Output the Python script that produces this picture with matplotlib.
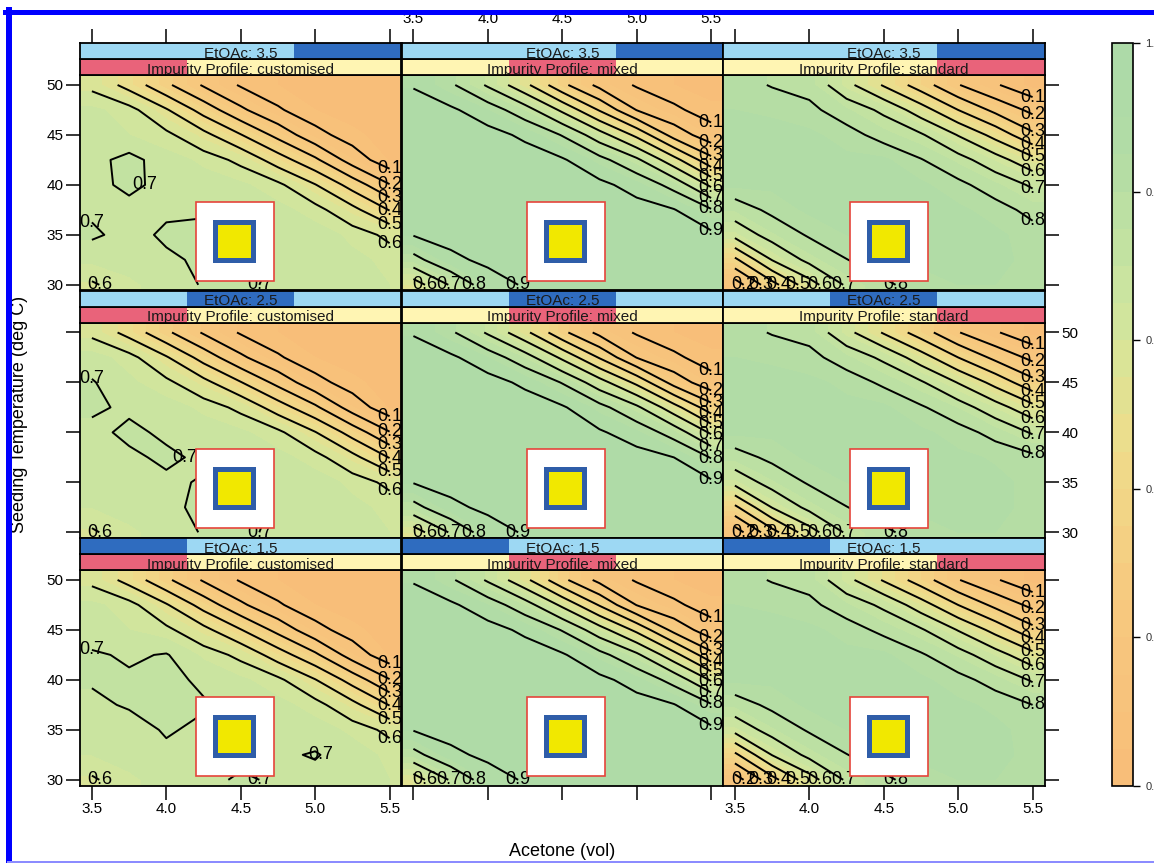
"""Crystallisation yield contours: acetone vs seeding temperature, by EtOAc and impurity profile."""

import numpy as np
import matplotlib

matplotlib.use("Agg")
import matplotlib.pyplot as plt
from matplotlib.colors import LinearSegmentedColormap
from matplotlib.lines import Line2D
from matplotlib.patches import Rectangle
from matplotlib.path import Path

plt.rcParams["font.family"] = ["Liberation Sans", "DejaVu Sans"]

W, H = 1154, 863

# grid of the response surface (rows follow SEED_TEMP, columns follow ACETONE)
ACETONE = [3.5, 3.75, 4.0, 4.25, 4.5, 4.75, 5.0, 5.25, 5.5]
SEED_TEMP = [30.0, 32.5, 35.0, 37.5, 40.0, 42.5, 45.0, 47.5, 50.0]
ETOAC = [1.5, 2.5, 3.5]
PROFILES = ["customised", "mixed", "standard"]
CONTOUR_LEVELS = [0.1, 0.2, 0.3, 0.4, 0.5, 0.6, 0.7, 0.8, 0.9]
X_TICKS = [3.5, 4.0, 4.5, 5.0, 5.5]
Y_TICKS = [30, 35, 40, 45, 50]
COLORBAR_TICKS = [0.0, 0.2, 0.4, 0.6, 0.8, 1.0]

CUSTOMISED_35 = [
    [0.59, 0.64, 0.67, 0.705, 0.71, 0.69, 0.67, 0.66, 0.65],
    [0.66, 0.67, 0.69, 0.71, 0.72, 0.695, 0.68, 0.66, 0.64],
    [0.71, 0.68, 0.71, 0.72, 0.705, 0.69, 0.67, 0.64, 0.58],
    [0.69, 0.68, 0.69, 0.69, 0.68, 0.665, 0.63, 0.53, 0.395],
    [0.68, 0.715, 0.68, 0.67, 0.66, 0.62, 0.505, 0.36, 0.205],
    [0.68, 0.72, 0.67, 0.64, 0.58, 0.45, 0.32, 0.153, 0.043],
    [0.66, 0.65, 0.62, 0.53, 0.405, 0.27, 0.13, 0.06, 0.03],
    [0.66, 0.63, 0.51, 0.36, 0.22, 0.11, 0.05, 0.03, 0.02],
    [0.58, 0.464, 0.32, 0.189, 0.09, 0.05, 0.03, 0.02, 0.02],
]
MIXED_35 = [
    [0.55, 0.71, 0.856, 0.91, 0.93, 0.94, 0.94, 0.94, 0.93],
    [0.767, 0.88, 0.92, 0.94, 0.95, 0.95, 0.95, 0.94, 0.93],
    [0.905, 0.93, 0.95, 0.95, 0.95, 0.95, 0.95, 0.94, 0.92],
    [0.95, 0.95, 0.95, 0.95, 0.95, 0.95, 0.93, 0.905, 0.81],
    [0.95, 0.95, 0.95, 0.95, 0.95, 0.92, 0.869, 0.767, 0.58],
    [0.95, 0.95, 0.95, 0.94, 0.91, 0.831, 0.72, 0.537, 0.33],
    [0.95, 0.94, 0.93, 0.884, 0.795, 0.643, 0.476, 0.26, 0.14],
    [0.93, 0.915, 0.85, 0.744, 0.581, 0.392, 0.197, 0.117, 0.06],
    [0.895, 0.816, 0.6875, 0.527, 0.325, 0.172, 0.09, 0.05, 0.03],
]
STANDARD_35 = [
    [0.15, 0.364, 0.558, 0.714, 0.786, 0.83, 0.85, 0.85, 0.85],
    [0.378, 0.604, 0.727, 0.798, 0.84, 0.86, 0.86, 0.86, 0.84],
    [0.633, 0.74, 0.81, 0.85, 0.86, 0.86, 0.86, 0.86, 0.83],
    [0.754, 0.82, 0.86, 0.86, 0.86, 0.86, 0.86, 0.83, 0.777],
    [0.86, 0.86, 0.86, 0.86, 0.86, 0.86, 0.82, 0.76, 0.687],
    [0.86, 0.86, 0.86, 0.86, 0.86, 0.805, 0.736, 0.6425, 0.53],
    [0.86, 0.86, 0.86, 0.83, 0.77, 0.712, 0.595, 0.467, 0.32],
    [0.85, 0.845, 0.82, 0.757, 0.68, 0.5475, 0.4, 0.274, 0.175],
    [0.83, 0.795, 0.77, 0.63, 0.49, 0.35, 0.205, 0.11, 0.03],
]
CUSTOMISED_25 = [
    [0.59, 0.64, 0.67, 0.705, 0.71, 0.69, 0.67, 0.66, 0.65],
    [0.65, 0.67, 0.69, 0.71, 0.715, 0.695, 0.68, 0.66, 0.64],
    [0.67, 0.68, 0.69, 0.705, 0.695, 0.69, 0.67, 0.64, 0.58],
    [0.68, 0.69, 0.71, 0.69, 0.68, 0.665, 0.63, 0.53, 0.395],
    [0.685, 0.712, 0.69, 0.67, 0.66, 0.62, 0.505, 0.36, 0.205],
    [0.71, 0.69, 0.67, 0.64, 0.58, 0.45, 0.32, 0.153, 0.043],
    [0.705, 0.66, 0.62, 0.53, 0.405, 0.27, 0.13, 0.06, 0.03],
    [0.67, 0.63, 0.51, 0.36, 0.22, 0.11, 0.05, 0.03, 0.02],
    [0.58, 0.464, 0.32, 0.189, 0.09, 0.05, 0.03, 0.02, 0.02],
]
MIXED_25 = [
    [0.55, 0.71, 0.856, 0.91, 0.93, 0.94, 0.94, 0.94, 0.93],
    [0.767, 0.88, 0.92, 0.94, 0.95, 0.95, 0.95, 0.94, 0.93],
    [0.905, 0.93, 0.95, 0.95, 0.95, 0.95, 0.95, 0.94, 0.915],
    [0.95, 0.95, 0.95, 0.95, 0.95, 0.95, 0.93, 0.9, 0.795],
    [0.95, 0.95, 0.95, 0.95, 0.95, 0.91, 0.86, 0.76, 0.585],
    [0.95, 0.95, 0.95, 0.94, 0.91, 0.831, 0.72, 0.54, 0.34],
    [0.95, 0.94, 0.93, 0.884, 0.795, 0.643, 0.476, 0.26, 0.135],
    [0.93, 0.915, 0.85, 0.744, 0.581, 0.392, 0.197, 0.117, 0.06],
    [0.895, 0.816, 0.6875, 0.527, 0.325, 0.172, 0.09, 0.05, 0.03],
]
STANDARD_25 = [
    [0.15, 0.364, 0.558, 0.714, 0.786, 0.83, 0.85, 0.85, 0.85],
    [0.378, 0.604, 0.727, 0.798, 0.84, 0.86, 0.86, 0.86, 0.84],
    [0.633, 0.74, 0.81, 0.85, 0.86, 0.86, 0.86, 0.86, 0.84],
    [0.765, 0.82, 0.86, 0.86, 0.86, 0.86, 0.86, 0.845, 0.82],
    [0.86, 0.86, 0.86, 0.86, 0.86, 0.86, 0.83, 0.775, 0.69],
    [0.86, 0.86, 0.86, 0.86, 0.86, 0.81, 0.745, 0.6425, 0.53],
    [0.86, 0.86, 0.86, 0.84, 0.785, 0.712, 0.595, 0.467, 0.33],
    [0.85, 0.845, 0.825, 0.76, 0.68, 0.5475, 0.4, 0.274, 0.175],
    [0.83, 0.795, 0.77, 0.63, 0.49, 0.35, 0.205, 0.11, 0.03],
]
CUSTOMISED_15 = [
    [0.59, 0.64, 0.67, 0.69, 0.705, 0.695, 0.68, 0.66, 0.65],
    [0.65, 0.67, 0.69, 0.69, 0.69, 0.69, 0.705, 0.67, 0.64],
    [0.67, 0.68, 0.705, 0.69, 0.69, 0.68, 0.67, 0.64, 0.58],
    [0.69, 0.705, 0.71, 0.705, 0.68, 0.665, 0.63, 0.53, 0.395],
    [0.705, 0.71, 0.715, 0.69, 0.66, 0.62, 0.505, 0.36, 0.205],
    [0.71, 0.69, 0.705, 0.64, 0.58, 0.45, 0.32, 0.153, 0.043],
    [0.66, 0.65, 0.62, 0.53, 0.405, 0.27, 0.13, 0.06, 0.03],
    [0.66, 0.63, 0.51, 0.36, 0.22, 0.11, 0.05, 0.03, 0.02],
    [0.58, 0.464, 0.32, 0.189, 0.09, 0.05, 0.03, 0.02, 0.02],
]
MIXED_15 = [
    [0.55, 0.71, 0.856, 0.91, 0.93, 0.94, 0.94, 0.94, 0.93],
    [0.767, 0.88, 0.92, 0.94, 0.95, 0.95, 0.95, 0.94, 0.93],
    [0.905, 0.93, 0.95, 0.95, 0.95, 0.95, 0.95, 0.94, 0.92],
    [0.95, 0.95, 0.95, 0.95, 0.95, 0.95, 0.93, 0.905, 0.81],
    [0.95, 0.95, 0.95, 0.95, 0.95, 0.92, 0.869, 0.767, 0.59],
    [0.95, 0.95, 0.95, 0.94, 0.91, 0.831, 0.72, 0.537, 0.33],
    [0.95, 0.94, 0.93, 0.884, 0.795, 0.643, 0.476, 0.27, 0.14],
    [0.93, 0.915, 0.85, 0.744, 0.581, 0.392, 0.197, 0.117, 0.06],
    [0.895, 0.816, 0.6875, 0.527, 0.325, 0.172, 0.09, 0.05, 0.03],
]
STANDARD_15 = [
    [0.15, 0.364, 0.558, 0.714, 0.786, 0.83, 0.85, 0.85, 0.85],
    [0.378, 0.604, 0.727, 0.798, 0.84, 0.86, 0.86, 0.86, 0.84],
    [0.633, 0.74, 0.81, 0.85, 0.86, 0.86, 0.86, 0.86, 0.835],
    [0.76, 0.82, 0.86, 0.86, 0.86, 0.86, 0.86, 0.84, 0.8],
    [0.86, 0.86, 0.86, 0.86, 0.86, 0.86, 0.825, 0.77, 0.69],
    [0.86, 0.86, 0.86, 0.86, 0.86, 0.81, 0.74, 0.6425, 0.53],
    [0.86, 0.86, 0.86, 0.835, 0.78, 0.712, 0.595, 0.467, 0.33],
    [0.85, 0.845, 0.82, 0.757, 0.68, 0.5475, 0.4, 0.274, 0.175],
    [0.83, 0.795, 0.77, 0.63, 0.49, 0.35, 0.205, 0.11, 0.03],
]

FIELDS = {
    (3.5, "customised"): CUSTOMISED_35,
    (3.5, "mixed"): MIXED_35,
    (3.5, "standard"): STANDARD_35,
    (2.5, "customised"): CUSTOMISED_25,
    (2.5, "mixed"): MIXED_25,
    (2.5, "standard"): STANDARD_25,
    (1.5, "customised"): CUSTOMISED_15,
    (1.5, "mixed"): MIXED_15,
    (1.5, "standard"): STANDARD_15,
}

XLIM = (3.42, 5.58)
YLIM = (29.43, 51.0)

# panel geometry in pixels
COL_LEFT = [80, 401.5, 723]
COL_W = 321.5
ROW_TOP = [43, 290.5, 538]
STRIP_H = 16
PLOT_H = 215.5
BOX_X0 = [0.36, 0.389, 0.396]

CMAP = LinearSegmentedColormap.from_list(
    "yield",
    [
        (0.0, "#f8bd78"),
        (0.25, "#f7c97f"),
        (0.45, "#efdc8a"),
        (0.6, "#d6e69a"),
        (0.65, "#cde59f"),
        (0.75, "#bfe1a2"),
        (0.85, "#b2dca5"),
        (1.0, "#acdaa8"),
    ],
)
FILL_LEVELS = np.linspace(0, 1, 21)


def fig_rect(left, top, width, height):
    return [left / W, 1 - (top + height) / H, width / W, height / H]


def split_segments(path):
    verts, codes = path.vertices, path.codes
    if len(verts) == 0:
        return []
    if codes is None:
        return [(verts, False)]
    out = []
    start = 0
    for i in range(1, len(codes) + 1):
        if i == len(codes) or codes[i] == Path.MOVETO:
            v = verts[start:i]
            c = codes[start:i]
            closed = c[-1] == Path.CLOSEPOLY or np.allclose(v[0], v[-1])
            if c[-1] == Path.CLOSEPOLY:
                v = v[:-1]
            if len(v) > 1:
                out.append((v, closed))
            start = i
    return out


def label_contours(ax, cs):
    for level, path in zip(cs.levels, cs.get_paths()):
        for verts, closed in split_segments(path):
            if closed:
                pt = verts[np.argmax(verts[:, 0])]
            else:
                pt = verts[0] if verts[0, 0] > verts[-1, 0] else verts[-1]
            ax.text(pt[0], pt[1], f"{level:.1f}", ha="center", va="center",
                    fontsize=13, color="black", zorder=4, clip_on=True)


def draw_strip(ax, text, idx, bg, fg):
    ax.set_facecolor(bg)
    ax.add_patch(Rectangle((idx / 3, 0), 1 / 3, 1, transform=ax.transAxes,
                           facecolor=fg, edgecolor="none", zorder=1))
    ax.text(0.5, 0.07, text, transform=ax.transAxes, ha="center", va="baseline",
            fontsize=11, color="#1a1a1a", zorder=2, clip_on=True)
    ax.set_xlim(XLIM)
    ax.set_ylim(0, 1)
    ax.set_yticks([])
    for s in ax.spines.values():
        s.set_linewidth(1.3)


def draw_marker(ax, col):
    x0 = BOX_X0[col]
    ax.add_patch(Rectangle((x0, 0.046), 0.243, 0.366, transform=ax.transAxes,
                           facecolor="white", edgecolor="#e5443b", linewidth=1.2, zorder=6))
    ax.add_patch(Rectangle((x0 + 0.053, 0.129), 0.134, 0.1995, transform=ax.transAxes,
                           facecolor="#2f5da8", edgecolor="none", zorder=7))
    ax.add_patch(Rectangle((x0 + 0.0685, 0.152), 0.103, 0.1535, transform=ax.transAxes,
                           facecolor="#f1e800", edgecolor="none", zorder=8))


fig = plt.figure(figsize=(W / 100, H / 100), dpi=100)

xs = np.array(ACETONE)
ys = np.array(SEED_TEMP)
# padded coordinates so the filled surface reaches the panel border
xs_pad = np.concatenate([[XLIM[0]], xs, [XLIM[1]]])
ys_pad = np.concatenate([[YLIM[0]], ys, [YLIM[1]]])

tick_kw = dict(length=10, width=1.1, labelsize=11, pad=2, color="black")
cf = None
for r, etoac in enumerate([3.5, 2.5, 1.5]):
    for c, profile in enumerate(PROFILES):
        z = np.array(FIELDS[(etoac, profile)])
        z_pad = np.pad(z, 1, mode="edge")

        ax = fig.add_axes(fig_rect(COL_LEFT[c], ROW_TOP[r] + 2 * STRIP_H, COL_W, PLOT_H))
        cf = ax.contourf(xs_pad, ys_pad, z_pad, levels=FILL_LEVELS, cmap=CMAP,
                         vmin=0, vmax=1, zorder=1)
        cs = ax.contour(xs, ys, z, levels=CONTOUR_LEVELS, colors="black",
                        linewidths=1.4, zorder=3)
        label_contours(ax, cs)
        draw_marker(ax, c)

        ax.set_xlim(XLIM)
        ax.set_ylim(YLIM)
        ax.set_xticks(X_TICKS)
        ax.set_xticklabels([f"{v:.1f}" for v in X_TICKS])
        ax.set_yticks(Y_TICKS)
        ax.tick_params(axis="x", direction="out", top=False, labeltop=False,
                       bottom=(r == 2), labelbottom=(r == 2 and c != 1), **tick_kw)
        ax.tick_params(axis="y", direction="out",
                       left=(c == 0), labelleft=(c == 0 and r != 1),
                       right=(c == 2), labelright=(c == 2 and r == 1), **tick_kw)
        for s in ax.spines.values():
            s.set_linewidth(1.3)
            s.set_zorder(10)

        s_imp = fig.add_axes(fig_rect(COL_LEFT[c], ROW_TOP[r] + STRIP_H, COL_W, STRIP_H))
        draw_strip(s_imp, f"Impurity Profile: {profile}", c, "#fff5b3", "#e9637a")
        s_imp.set_xticks([])

        s_et = fig.add_axes(fig_rect(COL_LEFT[c], ROW_TOP[r], COL_W, STRIP_H))
        draw_strip(s_et, f"EtOAc: {etoac}", ETOAC.index(etoac), "#9dd8f3", "#2f6cbf")
        if r == 0:
            s_et.set_xticks(X_TICKS)
            s_et.set_xticklabels([f"{v:.1f}" for v in X_TICKS])
            s_et.tick_params(axis="x", direction="out", bottom=False, labelbottom=False,
                             top=True, labeltop=(c == 1), **tick_kw)
        else:
            s_et.set_xticks([])

# colour key
cax = fig.add_axes(fig_rect(1112, 43, 21, 743))
cb = fig.colorbar(cf, cax=cax, ticks=COLORBAR_TICKS)
cb.ax.set_yticklabels([f"{v:.1f}" for v in COLORBAR_TICKS])
cb.ax.tick_params(length=5, width=1, pad=4, labelsize=8, labelcolor="#333333")
cb.outline.set_linewidth(1.2)

fig.text(20 / W, 1 - 414 / H, "Seeding Temperature (deg C)", rotation=90,
         ha="center", va="center", fontsize=13)
fig.text(562 / W, 1 - 851 / H, "Acetone (vol)", ha="center", va="center", fontsize=13)

# blue frame around the figure
frame = fig.add_axes([0, 0, 1, 1], zorder=20)
frame.set_xlim(0, W)
frame.set_ylim(H, 0)
frame.axis("off")
frame.patch.set_alpha(0)
frame.add_line(Line2D([5, W + 5], [12, 12], color="#0000ff", linewidth=5 * 0.72))
frame.add_line(Line2D([8.5, 8.5], [10, 862], color="#0000ff", linewidth=6 * 0.72))
frame.add_line(Line2D([8, W + 5], [861.5, 861.5], color="#8c8cff", linewidth=2 * 0.72))

fig.savefig("out.png", dpi=100)
